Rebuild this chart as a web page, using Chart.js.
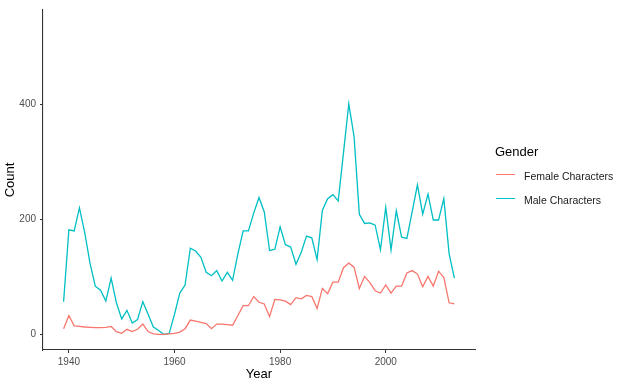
<!DOCTYPE html>
<html><head><meta charset="utf-8">
<script src="https://cdn.jsdelivr.net/npm/chart.js@4"></script>
<style>
html,body{margin:0;padding:0;background:#fff;}
#wrap{position:relative;width:620px;height:388px;}
canvas{position:absolute;left:0;top:0;}
.lg{position:absolute;font-family:"Liberation Sans",Arial,sans-serif;color:#000;white-space:nowrap;}
.sw{position:absolute;height:1.3px;width:19px;}
</style></head><body>
<div id="wrap">
<canvas id="c" width="620" height="388"></canvas>
<div class="lg" style="left:495px;top:144px;font-size:13px;">Gender</div>
<div class="sw" style="left:496px;top:173.5px;background:#F8766D;"></div>
<div class="lg" style="left:524px;top:170px;font-size:10.5px;color:#1a1a1a;">Female Characters</div>
<div class="sw" style="left:496px;top:197.5px;background:#00BFC4;"></div>
<div class="lg" style="left:524px;top:193.5px;font-size:10.5px;color:#1a1a1a;">Male Characters</div>
</div>
<script>
const years = [];
for (let y = 1939; y <= 2013; y++) years.push(y);
const femaleCounts = [10,33,15,14,13,12.5,12,12,12.5,14,5,2,9,5,9,18,5,1,0,0,1,2,4,10,25,23,21,19,10,18,18,17,16,33,50,50,66,56,53,31,61,60,58,52,64,62,68,66,45,80,71,91,91,116,124,117,80,101,90,76,72,86,72,84,84,107,111,105,83,101,84,110,99,55,53];
const maleCounts = [57,182,180,220,177,124,84,77,58,98,55,27,42,20,26,57,35,13,7,0,2,35,72,86,150,145,134,108,102,111,93,108,94,140,180,180,211,238,213,146,148,187,156,152,122,143,171,168,130,216,236,243,232,316,401,344,209,193,194,190,147,221,147,215,169,167,213,260,209,244,199,199,236,140,98];
const xTicks = [1940,1960,1980,2000];
const yTicks = [0,200,400];

const pts = arr => years.map((y,i)=>({x:y,y:arr[i]}));
const tickFont = {family:'"Liberation Sans",Arial,sans-serif', size:10};
const titleFont = {family:'"Liberation Sans",Arial,sans-serif', size:13};
new Chart(document.getElementById('c'), {
  type:'line',
  data:{datasets:[
    {label:'Female Characters', data:pts(femaleCounts), borderColor:'#F8766D', borderWidth:1.3, pointRadius:0, tension:0},
    {label:'Male Characters', data:pts(maleCounts), borderColor:'#00BFC4', borderWidth:1.3, pointRadius:0, tension:0}
  ]},
  options:{
    responsive:false, animation:false, devicePixelRatio:1,
    layout:{padding:{top:4,right:145,left:0,bottom:0}},
    plugins:{legend:{display:false}, tooltip:{enabled:false}},
    scales:{
      x:{type:'linear', min:1935.1, max:2016.9,
        afterBuildTicks:s=>{s.ticks=xTicks.map(v=>({value:v}));},
        afterFit:s=>{s.height=38;},
        ticks:{font:tickFont,color:'#4D4D4D',padding:3,callback:v=>String(v),maxRotation:0},
        grid:{drawOnChartArea:false,drawTicks:true,tickLength:3,color:'#333'},
        border:{display:true,color:'#333',width:1.1},
        title:{display:true,text:'Year',font:titleFont,color:'#000',padding:{top:0,bottom:6}}
      },
      y:{type:'linear', min:-27, max:564,
        afterBuildTicks:s=>{s.ticks=yTicks.map(v=>({value:v}));},
        afterFit:s=>{s.width=43;},
        ticks:{font:tickFont,color:'#4D4D4D',padding:4,callback:v=>String(v)},
        grid:{drawOnChartArea:false,drawTicks:true,tickLength:3,color:'#333'},
        border:{display:true,color:'#333',width:1.1},
        title:{display:true,text:'Count',font:titleFont,color:'#000',padding:{top:3,bottom:0}}
      }
    }
  }
});
</script>
</body></html>
